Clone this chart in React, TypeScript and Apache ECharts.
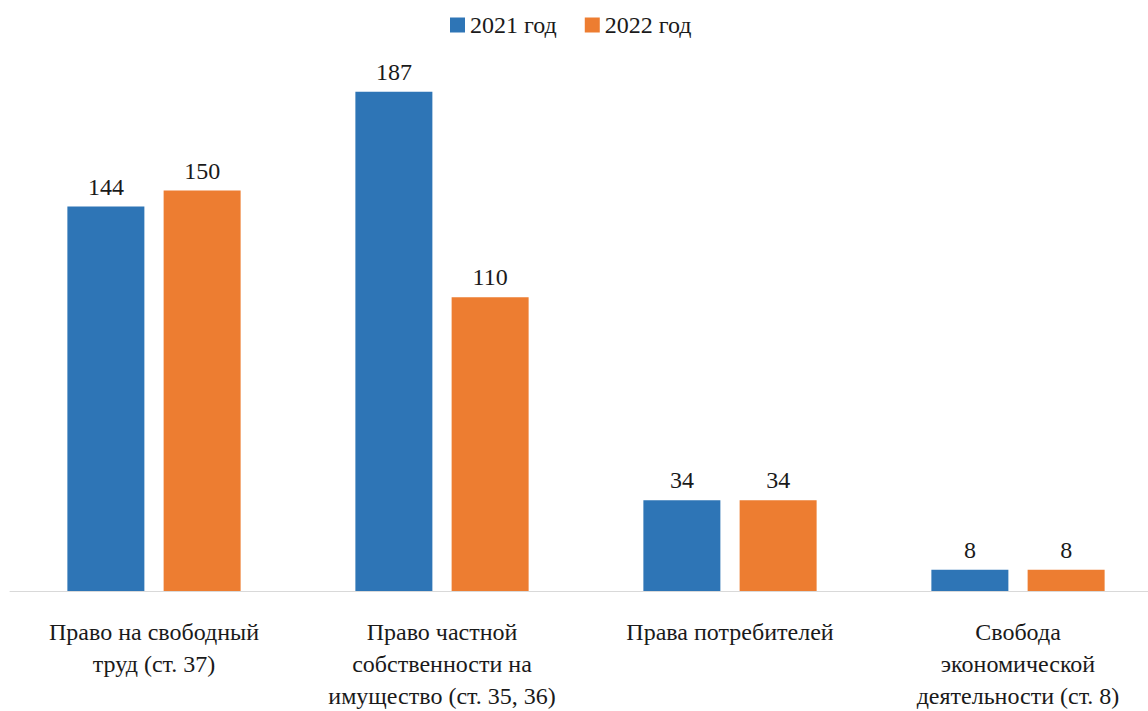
import React, { useEffect, useRef } from "react";
import * as echarts from "echarts";

const categories = [
  "Право на свободный\nтруд (ст. 37)",
  "Право частной\nсобственности на\nимущество (ст. 35, 36)",
  "Права потребителей",
  "Свобода\nэкономической\nдеятельности (ст. 8)",
];
const seriesNames = ["2021 год", "2022 год"];
const values2021 = [144, 187, 34, 8];
const values2022 = [150, 110, 34, 8];
const colors = ["#2e75b6", "#ed7d31"];

const FONT = '"Times New Roman", "Liberation Serif", "DejaVu Serif", serif';

export default function App() {
  const ref = useRef<HTMLDivElement>(null);
  useEffect(() => {
    document.body.style.margin = "0";
    if (!ref.current) return;
    const chart = echarts.init(ref.current, undefined, { renderer: "svg" });
    const labelStyle = {
      show: true,
      position: "top" as const,
      distance: 8,
      fontFamily: FONT,
      fontSize: 24,
      color: "#1a1a1a",
    };
    chart.setOption({
      animation: false,
      backgroundColor: "#ffffff",
      textStyle: { fontFamily: FONT },
      legend: {
        data: seriesNames,
        left: 445,
        top: 8,
        itemWidth: 15,
        itemHeight: 15,
        itemGap: 28,
        icon: "rect",
        textStyle: { fontFamily: FONT, fontSize: 24, color: "#1a1a1a" },
      },
      grid: {
        left: 10,
        top: 57,
        width: 1152,
        height: 534,
        containLabel: false,
        outerBoundsMode: "none",
      },
      xAxis: {
        type: "category",
        data: categories,
        axisLine: { show: true, lineStyle: { color: "#d9d9d9", width: 1 } },
        axisTick: { show: false },
        axisLabel: {
          interval: 0,
          margin: 25,
          fontFamily: FONT,
          fontSize: 24,
          lineHeight: 32,
          color: "#1a1a1a",
          align: "center",
        },
      },
      yAxis: {
        type: "value",
        min: 0,
        max: 200,
        show: false,
        splitLine: { show: false },
      },
      series: [
        {
          name: seriesNames[0],
          type: "bar",
          data: values2021,
          barWidth: 77,
          barGap: "25%",
          itemStyle: { color: colors[0] },
          label: labelStyle,
        },
        {
          name: seriesNames[1],
          type: "bar",
          data: values2022,
          barWidth: 77,
          barGap: "25%",
          itemStyle: { color: colors[1] },
          label: labelStyle,
        },
      ],
    });
    return () => chart.dispose();
  }, []);
  return <div ref={ref} style={{ width: 1148, height: 711 }} />;
}
